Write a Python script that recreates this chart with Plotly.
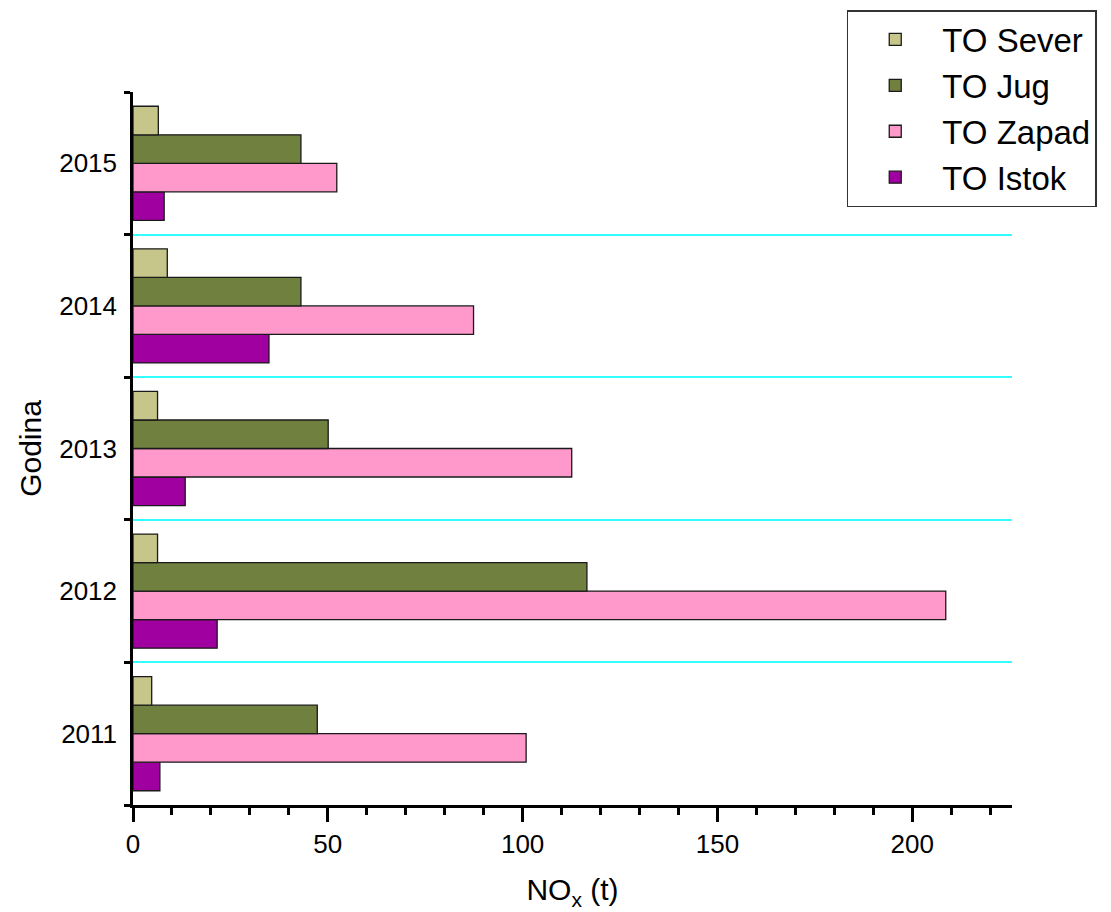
import plotly.graph_objects as go

years = [2011, 2012, 2013, 2014, 2015]
year_labels = ["2011", "2012", "2013", "2014", "2015"]
sever = [4.8, 6.3, 6.3, 8.8, 6.5]
jug = [47.3, 116.5, 50.1, 43.1, 43.1]
zapad = [100.9, 208.6, 112.6, 87.4, 52.3]
istok = [6.9, 21.6, 13.4, 34.9, 8.0]

series = [
    ("TO Istok", istok, "#A100A1"),
    ("TO Zapad", zapad, "#FF99CC"),
    ("TO Jug", jug, "#6F803F"),
    ("TO Sever", sever, "#C6C68A"),
]

FONT = "Liberation Sans, Arial, sans-serif"

fig = go.Figure()
for name, vals, color in series:
    fig.add_trace(go.Bar(
        y=years, x=vals, name=name, orientation="h",
        marker=dict(color=color, line=dict(color="#1a1a1a", width=1.3)),
    ))

boundaries = [y - 0.5 for y in years] + [years[-1] + 0.5]

fig.update_layout(
    width=1111, height=912,
    margin=dict(l=125, r=107, t=84, b=115, autoexpand=False),
    paper_bgcolor="white", plot_bgcolor="white",
    barmode="group", bargap=0.2, bargroupgap=0,
    font=dict(family=FONT, color="black"),
    legend=dict(
        traceorder="reversed",
        x=0.812, xanchor="left", y=1.115, yanchor="top",
        bordercolor="#333333", borderwidth=1.5,
        font=dict(size=33, family=FONT),
        bgcolor="white",
        itemwidth=84,
        tracegroupgap=0,
    ),
    xaxis=dict(
        range=[0, 225.6],
        automargin=False,
        tickvals=[0, 50, 100, 150, 200],
        ticks="outside", ticklen=14, tickwidth=2.5, tickcolor="black",
        minor=dict(dtick=10, tick0=0, ticks="outside", ticklen=7,
                   tickwidth=2.5, tickcolor="black", showgrid=False),
        showline=True, linecolor="black", linewidth=2.5,
        showgrid=False, zeroline=False,
        tickfont=dict(size=26),
        title=dict(text="NO<sub>x</sub> (t)", font=dict(size=30), standoff=22),
    ),
    yaxis=dict(
        range=[years[0] - 0.5, years[-1] + 0.5],
        automargin=False,
        tickvals=years, ticktext=year_labels,
        ticks="", ticklabelstandoff=8,
        minor=dict(tickvals=boundaries, ticks="outside", ticklen=6,
                   tickwidth=2.5, tickcolor="black",
                   showgrid=True, gridcolor="#33FFFF", gridwidth=2),
        showline=True, linecolor="black", linewidth=2.5,
        showgrid=False, zeroline=False,
        tickfont=dict(size=26),
        title=dict(text="Godina", font=dict(size=30), standoff=9),
    ),
)

fig.write_html("out.html")
